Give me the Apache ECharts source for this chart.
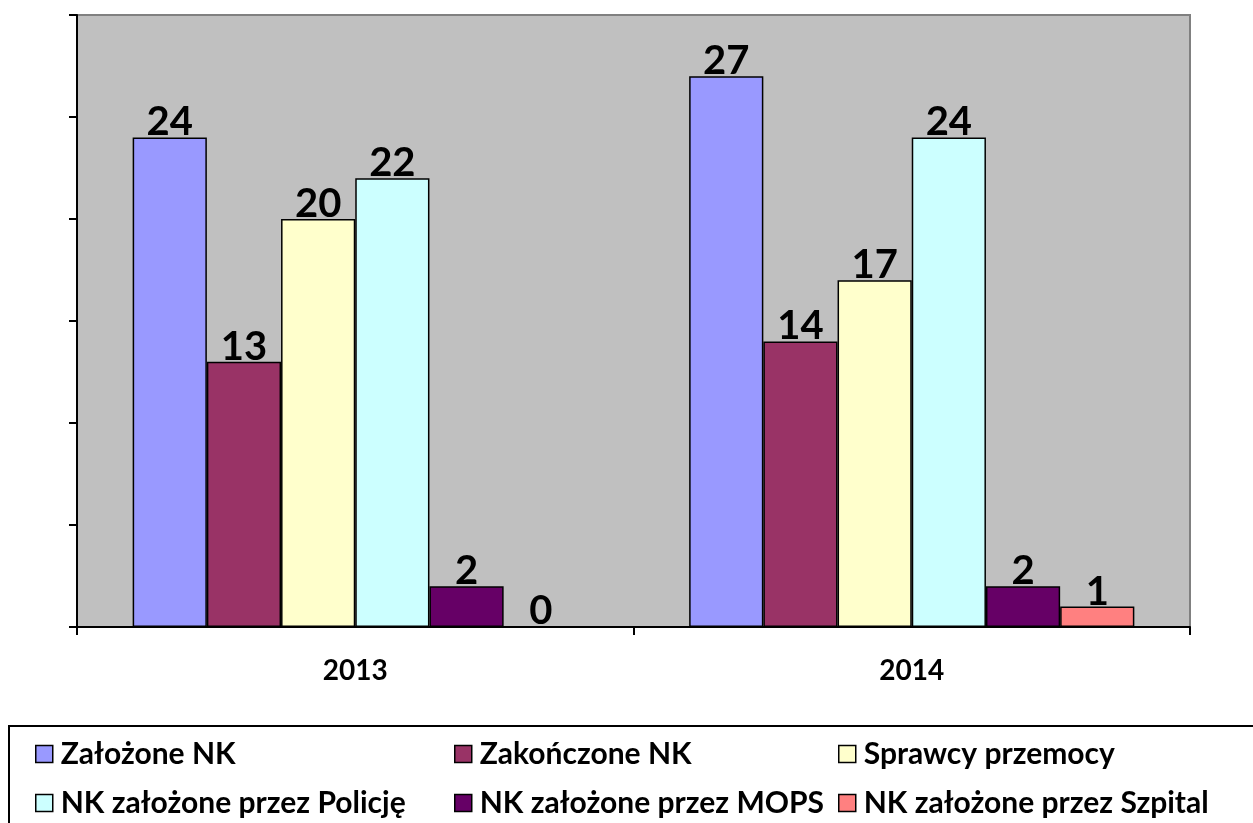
<!DOCTYPE html>
<html>
<head>
<meta charset="utf-8">
<script src="https://cdn.jsdelivr.net/npm/echarts@6/dist/echarts.min.js"></script>
<style>html,body{margin:0;padding:0;background:#fff;}#c{width:1253px;height:823px;}</style>
</head>
<body>
<div id="c"></div>
<script>
const categories = ['2013', '2014'];
const seriesNames = ['Założone NK', 'Zakończone NK', 'Sprawcy przemocy', 'NK założone przez Policję', 'NK założone przez MOPS', 'NK założone przez Szpital'];
const zalozone = [24, 27];
const zakonczone = [13, 14];
const sprawcy = [20, 17];
const policja = [22, 24];
const mops = [2, 2];
const szpital = [0, 1];
const colors = ['#9999FF', '#993366', '#FFFFCC', '#CCFFFF', '#660066', '#FF8080'];
const values = [zalozone, zakonczone, sprawcy, policja, mops, szpital];

const FONT = 'Lato';
const chart = echarts.init(document.getElementById('c'), null, {renderer: 'canvas'});

const legendPos = [
  {left: 35, top: 739}, {left: 454, top: 739}, {left: 838, top: 739},
  {left: 35, top: 788}, {left: 454, top: 788}, {left: 838, top: 788}
];

const option = {
  animation: false,
  backgroundColor: '#ffffff',
  textStyle: {fontFamily: FONT},
  grid: {
    left: 77, top: 15, width: 1113, height: 612,
    show: true, backgroundColor: '#C0C0C0', borderColor: '#808080', borderWidth: 2
  },
  xAxis: {
    type: 'category',
    data: categories,
    axisLine: {lineStyle: {color: '#000', width: 2}},
    axisTick: {show: true, length: 8, lineStyle: {color: '#000', width: 2}},
    axisLabel: {fontFamily: FONT, fontWeight: 'bold', fontSize: 28, color: '#000', margin: 30}
  },
  yAxis: {
    type: 'value', min: 0, max: 30, interval: 5,
    axisLine: {show: true, lineStyle: {color: '#000', width: 2}},
    axisTick: {show: true, length: 8, lineStyle: {color: '#000', width: 2}},
    axisLabel: {show: false},
    splitLine: {show: false}
  },
  legend: legendPos.map((p, i) => ({
    data: [seriesNames[i]],
    left: p.left, top: p.top,
    padding: 0,
    icon: 'rect',
    itemWidth: 17, itemHeight: 17,
    itemStyle: {borderColor: '#000', borderWidth: 1.5},
    textStyle: {fontFamily: FONT, fontWeight: 'bold', fontSize: 30, color: '#000', lineHeight: 30, padding: [0, 0, 0, 3]},
    selectedMode: false
  })),
  graphic: [{
    type: 'rect',
    shape: {x: 9, y: 726, width: 1300, height: 200},
    style: {fill: 'none', stroke: '#000', lineWidth: 2},
    silent: true
  }],
  series: seriesNames.map((name, i) => ({
    name: name,
    type: 'bar',
    data: values[i],
    barGap: '0%',
    barCategoryGap: '20%',
    itemStyle: {color: colors[i], borderColor: '#000', borderWidth: 1.5},
    label: {
      show: true, position: 'top', distance: -5,
      fontFamily: FONT, fontWeight: 'bold', fontSize: 40, color: '#000'
    }
  }))
};
chart.setOption(option);
</script>
</body>
</html>
